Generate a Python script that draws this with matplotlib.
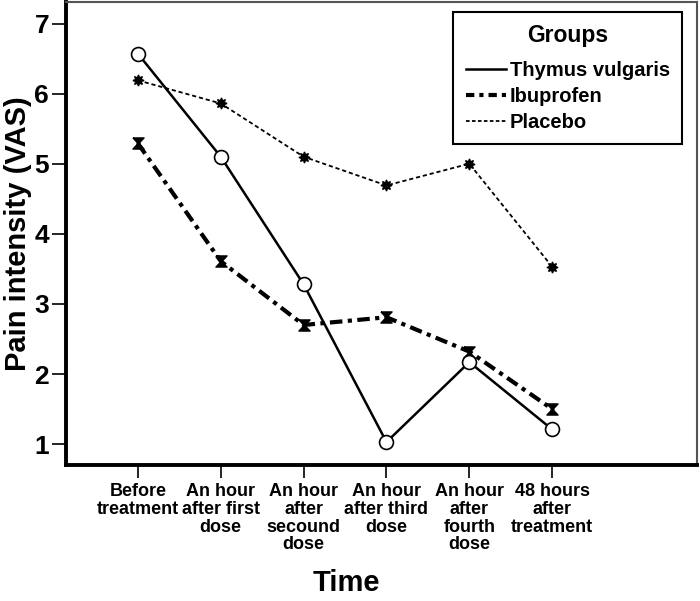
import numpy as np
import matplotlib.pyplot as plt
from matplotlib.lines import Line2D

plt.rcParams['font.family'] = ['Liberation Sans', 'DejaVu Sans']
plt.rcParams['font.weight'] = 'bold'

time_labels = ['Before\ntreatment', 'An hour\nafter first\ndose', 'An hour\nafter\nsecound\ndose',
               'An hour\nafter third\ndose', 'An hour\nafter\nfourth\ndose', '48 hours\nafter\ntreatment']
thymus = [6.57, 5.10, 3.28, 1.03, 2.17, 1.21]
ibuprofen = [5.29, 3.61, 2.70, 2.81, 2.32, 1.50]
placebo = [6.19, 5.86, 5.10, 4.69, 5.00, 3.53]

x = np.arange(len(time_labels))

# hourglass marker for the ibuprofen means
hourglass = [(-1, 1), (1, 1), (0.25, 0.2), (0.25, -0.2), (1, -1), (-1, -1),
             (-0.25, -0.2), (-0.25, 0.2), (-1, 1)]

fig = plt.figure(figsize=(7.0, 6.01), dpi=100)
ax = fig.add_axes([0.094, 0.226, 0.902, 0.771])

ax.plot(x, thymus, color='black', lw=1.8, marker='o', ms=10,
        mfc='white', mec='black', mew=1.2, zorder=3)
ax.plot(x, ibuprofen, color='black', lw=3.0, dashes=(3, 1.3, 1, 1.3),
        marker=hourglass, ms=8, mfc='black', mec='black', zorder=2)
ax.plot(x, placebo, color='black', lw=1.3, dashes=(2.3, 1.6),
        marker=(8, 1, 0), ms=8, mfc='black', mec='black', zorder=2)

ax.set_xlim(-0.87, 6.75)
ax.set_ylim(0.7, 7.31)
ax.set_yticks([1, 2, 3, 4, 5, 6, 7])
ax.set_xticks(x)
ax.set_xticklabels(time_labels, fontsize=13, fontweight='bold', linespacing=1.05)
ax.tick_params(axis='y', labelsize=19, length=10, width=1.2, pad=2)
ax.tick_params(axis='x', length=9, width=1.2, pad=4)
for lab in ax.get_yticklabels():
    lab.set_fontweight('bold')

ax.spines['left'].set_linewidth(2.8)
ax.spines['bottom'].set_linewidth(2.8)
ax.spines['top'].set_linewidth(1.5)
ax.spines['top'].set_color('#555555')
ax.spines['right'].set_linewidth(1.5)
ax.spines['right'].set_color('#555555')

ax.set_ylabel('Pain intensity (VAS)', fontsize=21, fontweight='bold', labelpad=2)
fig.text(346 / 700, 0.03, 'Time', fontsize=21, fontweight='bold', ha='center', va='center')

handles = [Line2D([], [], color='black', lw=1.8),
           Line2D([], [], color='black', lw=3.0, dashes=(2, 1.2, 1, 1.2)),
           Line2D([], [], color='black', lw=1.3, dashes=(2, 1.3))]
names = ['Thymus vulgaris', 'Ibuprofen', 'Placebo']
leg = ax.legend(handles, names, title='Groups', loc='upper right', bbox_to_anchor=(0.976, 0.978),
                fancybox=False, edgecolor='black', framealpha=1, handlelength=2.0,
                handletextpad=0.2, fontsize=14.5, title_fontsize=16.5, borderpad=0.6,
                labelspacing=0.35, borderaxespad=0)
leg._legend_box.sep = 10
leg.get_frame().set_linewidth(1.5)
leg.get_title().set_fontweight('bold')
for t in leg.get_texts():
    t.set_fontweight('bold')

fig.savefig('out.png', dpi=100)
